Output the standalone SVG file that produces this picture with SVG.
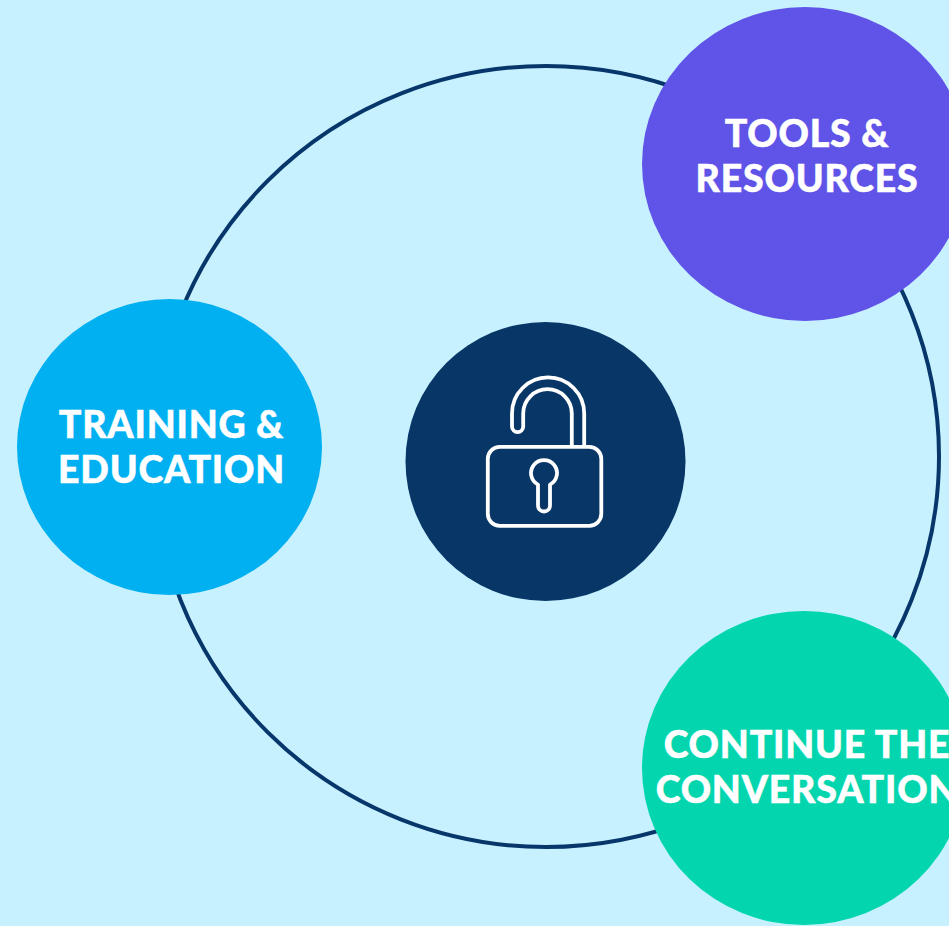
<svg xmlns="http://www.w3.org/2000/svg" width="949" height="926" viewBox="0 0 949 926">
<style>
.l{font-family:"Lato","Liberation Sans",sans-serif;font-weight:900;font-size:37.500px;letter-spacing:.8px;fill:#fff;stroke:#fff;stroke-width:.5px;text-anchor:middle}
.ic{fill:none;stroke:#fff;stroke-width:3.8;stroke-linejoin:round}
</style>
<rect width="949" height="926" fill="#c8f1ff"/>
<g id="connectors"><ellipse cx="546" cy="456.500" rx="393" ry="390.500" fill="none" stroke="#07366a" stroke-width="4"/></g>
<g id="center"><ellipse cx="545.500" cy="461.500" rx="140" ry="139.500" fill="#083767"/>
<rect class="ic" x="487.800" y="446.800" width="113.500" height="79" rx="12"/>
<path class="ic" d="M571.800 446.800V413.500A24.300 24.300 0 0 0 523.200 413.500V426.500A5.600 5.600 0 0 1 512 426.500V413.500A36.100 36.100 0 0 1 584.200 413.500V446.800"/>
<path class="ic" d="M538 484.600A13 13 0 1 1 550 484.600V505.500A6 6 0 0 1 538 505.500Z"/></g>
<g id="tools"><ellipse cx="805" cy="164" rx="163" ry="157" fill="#5f53e8"/><text class="l" x="807" y="147">TOOLS &amp;</text><text class="l" x="807" y="192">RESOURCES</text></g>
<g id="training"><ellipse cx="169.500" cy="447" rx="152.500" ry="148" fill="#00b0f0"/><text class="l" x="171.500" y="438">TRAINING &amp;</text><text class="l" x="171.500" y="483">EDUCATION</text></g>
<g id="continue"><ellipse cx="804" cy="768" rx="162" ry="157" fill="#03d6ae"/><text class="l" x="807" y="758">CONTINUE THE</text><text class="l" x="807" y="803">CONVERSATION</text></g>
</svg>
